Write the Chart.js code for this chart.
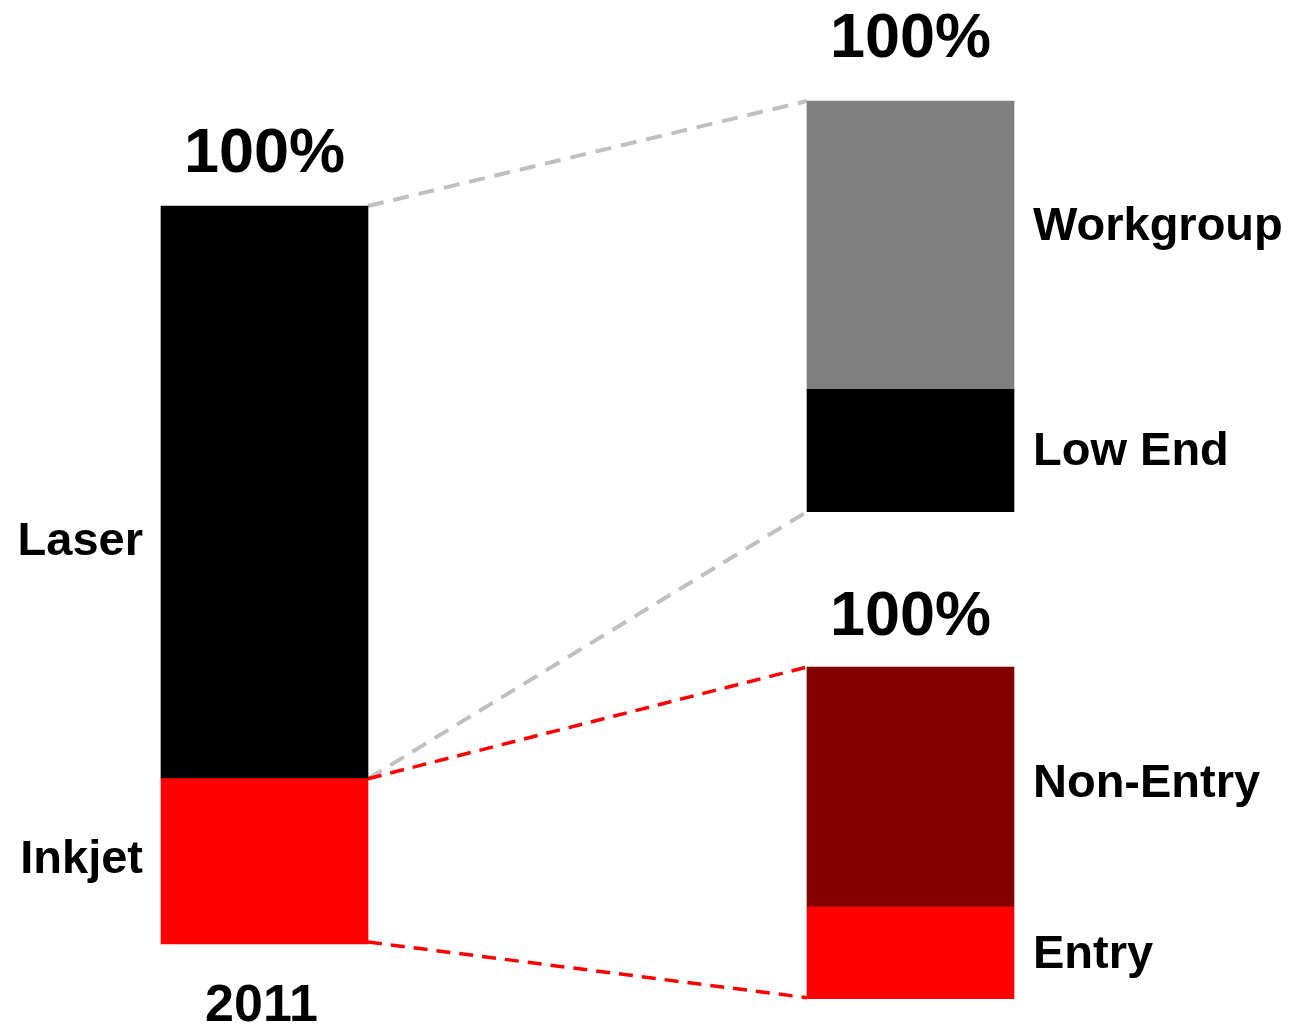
<!DOCTYPE html>
<html>
<head>
<meta charset="utf-8">
<title>Printer market split 2011</title>
<script src="https://cdn.jsdelivr.net/npm/chart.js@4.4.0/dist/chart.umd.min.js"></script>
<style>
  html, body { margin: 0; padding: 0; background: #fff; }
  #wrap { width: 1295px; height: 1029px; position: relative; }
</style>
</head>
<body>
<div id="wrap"><canvas id="myChart"></canvas></div>
<script>
// shares in percent, every column adds up to 100
const year = "2011";
const totalLabel = "100%";
const techLabels = ["Inkjet", "Laser"];
const techShares = [22.4, 77.6];
const laserLabels = ["Low End", "Workgroup"];
const laserShares = [29.8, 70.2];
const inkjetLabels = ["Entry", "Non-Entry"];
const inkjetShares = [27.7, 72.3];

const W = 1295, H = 1029;
const FONT = '"Liberation Sans", Arial, Helvetica, sans-serif';

// hidden axes fill the whole canvas, so work out min/max that put 0..100 between two pixel rows
function spanAxis(bottomPx, topPx) {
    const perUnit = (bottomPx - topPx) / 100;
    return { min: -(H - bottomPx) / perUnit, max: 100 + topPx / perUnit };
}
// column 0 centred at 264.5px, column 1 at 910.5px
const colGap = 646;
const xRange = { min: -264.5 / colGap, max: (W - 264.5) / colGap };

function segment(label, value, col, axis, color) {
    return {
        label: label,
        data: [{ x: col, y: value }],
        yAxisID: axis,
        backgroundColor: color,
        borderWidth: 0,
        barThickness: 207,
        grouped: false
    };
}

const datasets = [
    segment(techLabels[0], techShares[0], 0, "yL", "#ff0000"),
    segment(techLabels[1], techShares[1], 0, "yL", "#000000"),
    segment(laserLabels[0], laserShares[0], 1, "yT", "#000000"),
    segment(laserLabels[1], laserShares[1], 1, "yT", "#808080"),
    segment(inkjetLabels[0], inkjetShares[0], 1, "yB", "#ff0000"),
    segment(inkjetLabels[1], inkjetShares[1], 1, "yB", "#800000")
];

// small vertical tweaks for a couple of segment labels
const labelNudge = { "Laser": 50, "Inkjet": -1, "Workgroup": -18, "Non-Entry": -3, "Low End": 2, "Entry": 2 };
const totalGap = [34, 44, 32];

function box(chart, i) {
    const el = chart.getDatasetMeta(i).data[0];
    return {
        left: el.x - el.width / 2,
        right: el.x + el.width / 2,
        top: Math.min(el.y, el.base),
        bottom: Math.max(el.y, el.base),
        cx: el.x
    };
}

function dashed(ctx, x1, y1, x2, y2, color, width, dash) {
    ctx.save();
    ctx.strokeStyle = color;
    ctx.lineWidth = width;
    ctx.setLineDash(dash);
    ctx.beginPath();
    ctx.moveTo(x1, y1);
    ctx.lineTo(x2, y2);
    ctx.stroke();
    ctx.restore();
}

const breakdownPlugin = {
    id: "breakdown",
    beforeDatasetsDraw(chart) {
        const ctx = chart.ctx;
        const inkjet = box(chart, 0), laser = box(chart, 1);
        const lowEnd = box(chart, 2), workgroup = box(chart, 3);
        const entry = box(chart, 4), nonEntry = box(chart, 5);
        dashed(ctx, laser.right, laser.top, workgroup.left, workgroup.top, "#c0c0c0", 4, [16, 10]);
        dashed(ctx, inkjet.right, inkjet.top, lowEnd.left, lowEnd.bottom, "#c0c0c0", 4, [16, 10]);
        dashed(ctx, inkjet.right, inkjet.top, nonEntry.left, nonEntry.top, "#ff0000", 3.5, [14, 9]);
        dashed(ctx, inkjet.right, inkjet.bottom - 2, entry.left, entry.bottom - 1, "#ff0000", 3.5, [14, 9]);
    },
    afterDatasetsDraw(chart) {
        const ctx = chart.ctx;
        ctx.save();
        ctx.fillStyle = "#000";

        // segment names
        ctx.font = "bold 47px " + FONT;
        ctx.textBaseline = "middle";
        chart.data.datasets.forEach(function(ds, i) {
            const b = box(chart, i);
            const y = (b.top + b.bottom) / 2 + (labelNudge[ds.label] || 0);
            if (ds.data[0].x === 0) {
                ctx.textAlign = "right";
                ctx.fillText(ds.label, b.left - 18, y);
            } else {
                ctx.textAlign = "left";
                ctx.fillText(ds.label, b.right + 19, y);
            }
        });

        // column totals
        ctx.font = "bold 63px " + FONT;
        ctx.textAlign = "center";
        ctx.textBaseline = "alphabetic";
        [1, 3, 5].forEach(function(i, k) {
            const b = box(chart, i);
            ctx.fillText(totalLabel, b.cx, b.top - totalGap[k]);
        });

        // year under the left column
        const base = box(chart, 0);
        ctx.font = "bold 52px " + FONT;
        ctx.fillText(year, base.cx - 3, base.bottom + 77);
        ctx.restore();
    }
};

const ctx = document.getElementById("myChart").getContext("2d");
const chart = new Chart(ctx, {
    type: "bar",
    data: { datasets: datasets },
    options: {
        responsive: true,
        maintainAspectRatio: false,
        animation: false,
        layout: { padding: 0 },
        plugins: {
            legend: { display: false },
            tooltip: { enabled: false }
        },
        scales: {
            x: { type: "linear", display: false, offset: false, stacked: true, min: xRange.min, max: xRange.max },
            yL: Object.assign({ type: "linear", display: false, stacked: true }, spanAxis(944, 206)),
            yT: Object.assign({ type: "linear", display: false, stacked: true }, spanAxis(511.7, 101)),
            yB: Object.assign({ type: "linear", display: false, stacked: true }, spanAxis(998.7, 667))
        }
    },
    plugins: [breakdownPlugin]
});
</script>
</body>
</html>
